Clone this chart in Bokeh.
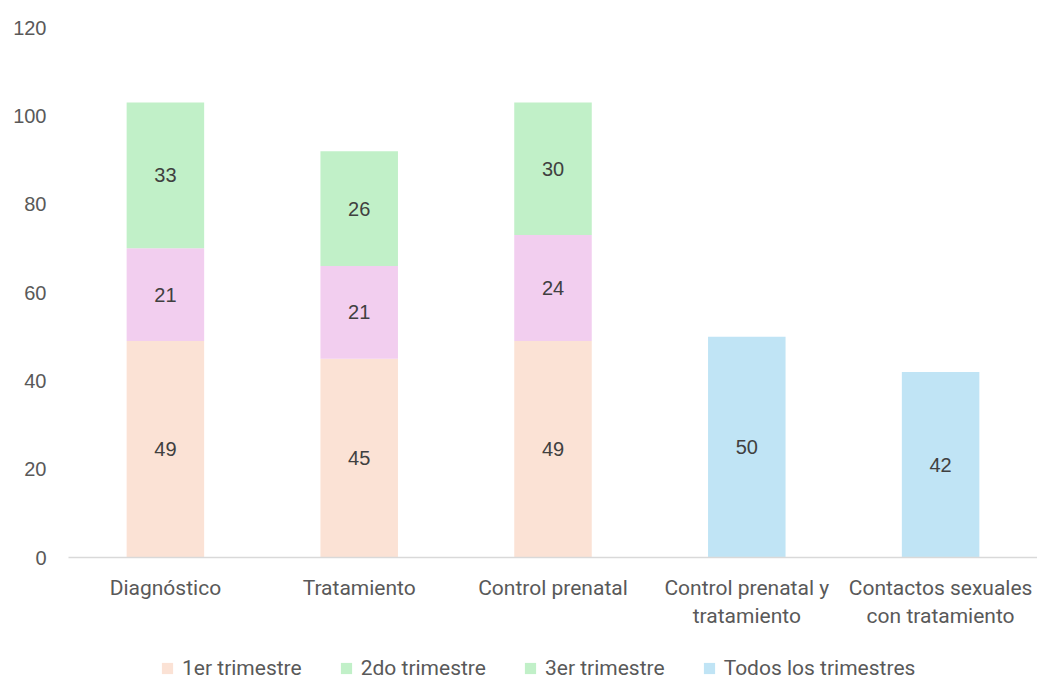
from bokeh.plotting import figure
from bokeh.models import ColumnDataSource, Legend, LegendItem, Range1d, FixedTicker
from bokeh.layouts import column
from bokeh.core.properties import value
from bokeh.embed import file_html
from bokeh.resources import INLINE

categories = ["Diagnóstico", "Tratamiento", "Control prenatal",
              "Control prenatal y tratamiento", "Contactos sexuales con tratamiento"]
tick_labels = ["Diagnóstico", "Tratamiento", "Control prenatal",
               "Control prenatal y\ntratamiento", "Contactos sexuales\ncon tratamiento"]
primer = [49, 45, 49, 0, 0]
segundo = [21, 21, 24, 0, 0]
tercer = [33, 26, 30, 0, 0]
todos = [0, 0, 0, 50, 42]
series_names = ["1er trimestre", "2do trimestre", "3er trimestre", "Todos los trimestres"]
y_ticks = [0, 20, 40, 60, 80, 100, 120]

c1, c2, c3, c4 = "#fbe2d5", "#f2ceef", "#c1f0c8", "#c0e4f5"
legend_colors = [c1, c3, c3, c4]

xpos = [i + 0.5 for i in range(len(categories))]
src = ColumnDataSource(dict(x=xpos, s1=primer, s2=segundo, s3=tercer, s4=todos))

p = figure(x_range=Range1d(0, len(categories)), y_range=Range1d(0, 120),
           width=1037, height=640, output_backend="svg", toolbar_location=None,
           min_border_left=68, min_border_right=0, min_border_top=27, min_border_bottom=83)

p.vbar_stack(["s1", "s2", "s3", "s4"], x="x", width=0.4, color=[c1, c2, c3, c4],
             line_color=None, source=src)

# data labels
lx, ly, lt = [], [], []
for i in range(len(categories)):
    base = 0
    for vals in (primer, segundo, tercer, todos):
        v = vals[i]
        if v > 0:
            lx.append(xpos[i])
            ly.append(base + v / 2)
            lt.append(str(v))
        base += v
p.text(x=lx, y=ly, text=lt, text_align="center", text_baseline="middle",
       text_font=value("Liberation Sans"), text_font_size="20px", text_color="#404040")

p.xaxis.ticker = FixedTicker(ticks=xpos)
p.xaxis.major_label_overrides = {x: t for x, t in zip(xpos, tick_labels)}
p.xaxis.major_label_text_font = "Roboto"
p.xaxis.major_label_text_font_size = "21px"
p.xaxis.major_label_text_color = "#595959"
p.xaxis.axis_line_color = "#d9d9d9"
p.xaxis.axis_line_width = 1.5
p.xaxis.major_tick_line_color = None
p.xaxis.minor_tick_line_color = None
p.xaxis.major_tick_out = 0
p.xaxis.major_label_standoff = 18

p.yaxis.ticker = FixedTicker(ticks=y_ticks)
p.yaxis.major_label_text_font = "Liberation Sans"
p.yaxis.major_label_text_font_size = "20px"
p.yaxis.major_label_text_color = "#595959"
p.yaxis.axis_line_color = None
p.yaxis.major_tick_line_color = None
p.yaxis.minor_tick_line_color = None
p.yaxis.major_tick_out = 0
p.yaxis.major_label_standoff = 22

p.xgrid.grid_line_color = None
p.ygrid.grid_line_color = None
p.outline_line_color = None

# legend in its own strip below the chart
lg = figure(width=1037, height=44, output_backend="svg", toolbar_location=None,
            x_axis_type=None, y_axis_type=None, x_range=Range1d(0, 1), y_range=Range1d(0, 1),
            min_border_left=0, min_border_right=0, min_border_top=0, min_border_bottom=0)
lg.outline_line_color = None
lg.xgrid.grid_line_color = None
lg.ygrid.grid_line_color = None
items = []
for name, col in zip(series_names, legend_colors):
    # zero-height swatch carrier: draws nothing in the strip, only feeds the legend glyph
    r = lg.vbar(x=[0.5], top=[0], bottom=[0], width=0.01, fill_color=col, line_color=None)
    items.append(LegendItem(label=name, renderers=[r]))
legend = Legend(items=items, orientation="horizontal", location=(92, 4),
                label_text_font="Roboto", label_text_font_size="21px",
                label_text_color="#595959", glyph_width=14, glyph_height=14,
                spacing=37, label_standoff=8, border_line_color=None,
                background_fill_alpha=0, padding=0, margin=0)
lg.add_layout(legend, "center")

layout = column(p, lg, spacing=0)
open("out.html", "w").write(file_html(layout, INLINE))
